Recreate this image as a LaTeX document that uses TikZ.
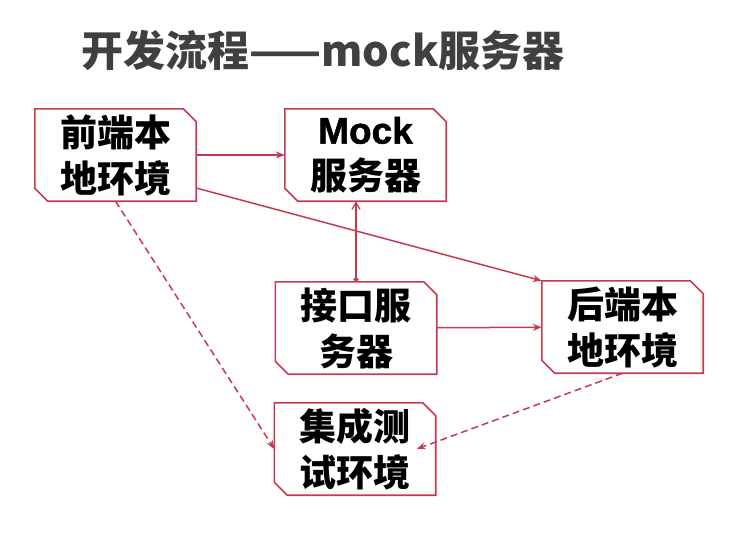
\documentclass[tikz,border=0pt]{standalone}
\usepackage{fontspec}
\setmainfont{Noto Sans CJK SC}
\newfontfamily\latinfont[BoldFeatures={FakeBold=1.5}]{Liberation Sans}
\usetikzlibrary{arrows.meta}
\definecolor{linkred}{RGB}{196,58,80}
\definecolor{titlegray}{RGB}{64,64,64}
\tikzset{
  envbox/.style={rectangle, minimum width=161pt, minimum height=92pt, inner sep=0pt,
    align=center, font=\fontsize{37}{46}\selectfont\bfseries},
  boxline/.style={line width=1.6pt, draw=linkred, line join=miter},
  link/.style={line width=1.5pt, draw=linkred, -{Stealth[length=9pt,width=7pt]}},
  testlink/.style={link, dash pattern=on 7pt off 4pt}
}
\begin{document}
\begin{tikzpicture}[x=1pt,y=-1pt]
    \useasboundingbox (0,0) rectangle (731,543);
    \node[anchor=west, text=titlegray, font=\fontsize{42}{50}\selectfont\bfseries] (title) at (78,50) {开发流程——mock服务器};
    \node[envbox] (fe) at (115.5,155) {前端本\\地环境};
    \node[envbox] (mock) at (365.5,155) {{\latinfont\bfseries Mock}\\服务器};
    \node[envbox] (api) at (356,328) {接口服\\务器};
    \node[envbox] (be) at (622.5,327) {后端本\\地环境};
    \node[envbox] (it) at (355,449) {集成测\\试环境};
    % snipped corners: top right and bottom left
    \foreach \n in {fe,mock,api,be,it}
      \draw[boxline] (\n.north west) -- ([xshift=-13pt]\n.north east)
        -- ([yshift=-13pt]\n.north east) -- (\n.south east)
        -- ([xshift=13pt]\n.south west) -- ([yshift=13pt]\n.south west) -- cycle;
    \draw[link] (fe) -- (mock);
    \draw[link] ([yshift=-33pt]fe.east) -- (be.north west);
    \draw[link] (api) -- (be);
    \draw[line width=1.2pt, draw=linkred, {Circle[length=5pt]}-{Straight Barb[length=7pt,width=8pt]}] (api.north) -- (api.north |- mock.south);
    \draw[testlink] (fe.south) -- (it.west);
    \draw[testlink] (be.south) -- ([xshift=-19pt]it.east);
\end{tikzpicture}
\end{document}
